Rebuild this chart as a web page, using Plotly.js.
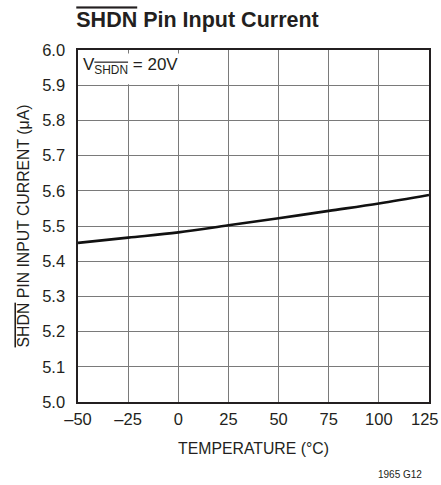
<!DOCTYPE html>
<html><head><meta charset="utf-8">
<script src="https://cdn.plot.ly/plotly-3.0.1.min.js"></script>
<style>body{margin:0;background:#fff}#c{width:441px;height:485px}</style>
</head><body><div id="c"></div>
<script>
const temperature = [-50, -25, 0, 25, 50, 75, 100, 125];
const current = [5.452, 5.467, 5.482, 5.502, 5.522, 5.543, 5.564, 5.588];
const xTickVals = [-50, -25, 0, 25, 50, 75, 100, 125];
const xTickText = ['–50', '–25', '0', '25', '50', '75', '100', '125'];
const yTickVals = [5.0, 5.1, 5.2, 5.3, 5.4, 5.5, 5.6, 5.7, 5.8, 5.9, 6.0];
const yTickText = ['5.0','5.1','5.2','5.3','5.4','5.5','5.6','5.7','5.8','5.9','6.0'];

const FONT = '"Liberation Sans", Arial, sans-serif';
const OL = s => '<span style="text-decoration:overline">' + s + '</span>';

const trace = {
  x: temperature, y: current, type: 'scatter', mode: 'lines',
  line: {color: '#111', width: 2.6, shape: 'spline'}, hoverinfo: 'skip'
};

// last x tick label is drawn as an annotation so it stays inside the page
const lastIdx = xTickVals.length - 1;
const xTickTextAxis = xTickText.map((t, i) => i === lastIdx ? '' : t);

const layout = {
  width: 441, height: 485,
  margin: {l: 77.7, r: 12, t: 50, b: 83},
  paper_bgcolor: '#fff', plot_bgcolor: '#fff',
  showlegend: false,
  font: {family: FONT, color: '#231f20', size: 16.5},
  title: {text: '<b>' + OL('SHDN') + ' Pin Input Current</b>', x: 0.173, xanchor: 'left',
          yref: 'container', y: 0.959, yanchor: 'middle',
          font: {family: FONT, size: 21.5, color: '#231f20'}},
  xaxis: {
    range: [-50, 125], tickvals: xTickVals, ticktext: xTickTextAxis,
    showgrid: true, gridcolor: '#7a7a7a', gridwidth: 1,
    showline: true, linecolor: '#231f20', linewidth: 1.6, mirror: true,
    ticks: '', zeroline: false, fixedrange: true,
    tickfont: {size: 16.5}, ticklabelstandoff: 2,
    title: {text: 'TEMPERATURE (°C)', font: {size: 15.8}, standoff: 15}
  },
  yaxis: {
    range: [5.0, 6.0], tickvals: yTickVals, ticktext: yTickText,
    showgrid: true, gridcolor: '#7a7a7a', gridwidth: 1,
    showline: true, linecolor: '#231f20', linewidth: 1.6, mirror: true,
    ticks: '', zeroline: false, fixedrange: true,
    tickfont: {size: 16.5}, ticklabelstandoff: 8, ticklabeloverflow: 'allow',
    title: {text: OL('SHDN') + ' PIN INPUT CURRENT (μA)', font: {size: 15.8}, standoff: 8}
  },
  shapes: [{
    type: 'rect', xref: 'x', yref: 'y', x0: -49.6, x1: 24.4, y0: 5.903, y1: 5.99,
    fillcolor: '#fff', line: {width: 0}, layer: 'above'
  }],
  annotations: [
    {xref: 'x', yref: 'paper', x: xTickVals[lastIdx], y: 0, yshift: -16.5, xshift: -4,
     xanchor: 'center', yanchor: 'middle', showarrow: false,
     text: xTickText[lastIdx], font: {size: 16.5, color: '#231f20'}},
    {xref: 'paper', yref: 'paper', x: 0.008, y: 0.992, xanchor: 'left', yanchor: 'top', showarrow: false,
     text: 'V<sub>' + OL('SHDN') + '</sub> = 20V', font: {size: 17, color: '#231f20'}},
    {xref: 'paper', yref: 'paper', x: 0.985, y: -0.207, xanchor: 'right', yanchor: 'middle', showarrow: false,
     text: '1965 G12', font: {size: 10, color: '#231f20'}}
  ]
};
Plotly.newPlot('c', [trace], layout, {staticPlot: true, displayModeBar: false});
</script></body></html>
